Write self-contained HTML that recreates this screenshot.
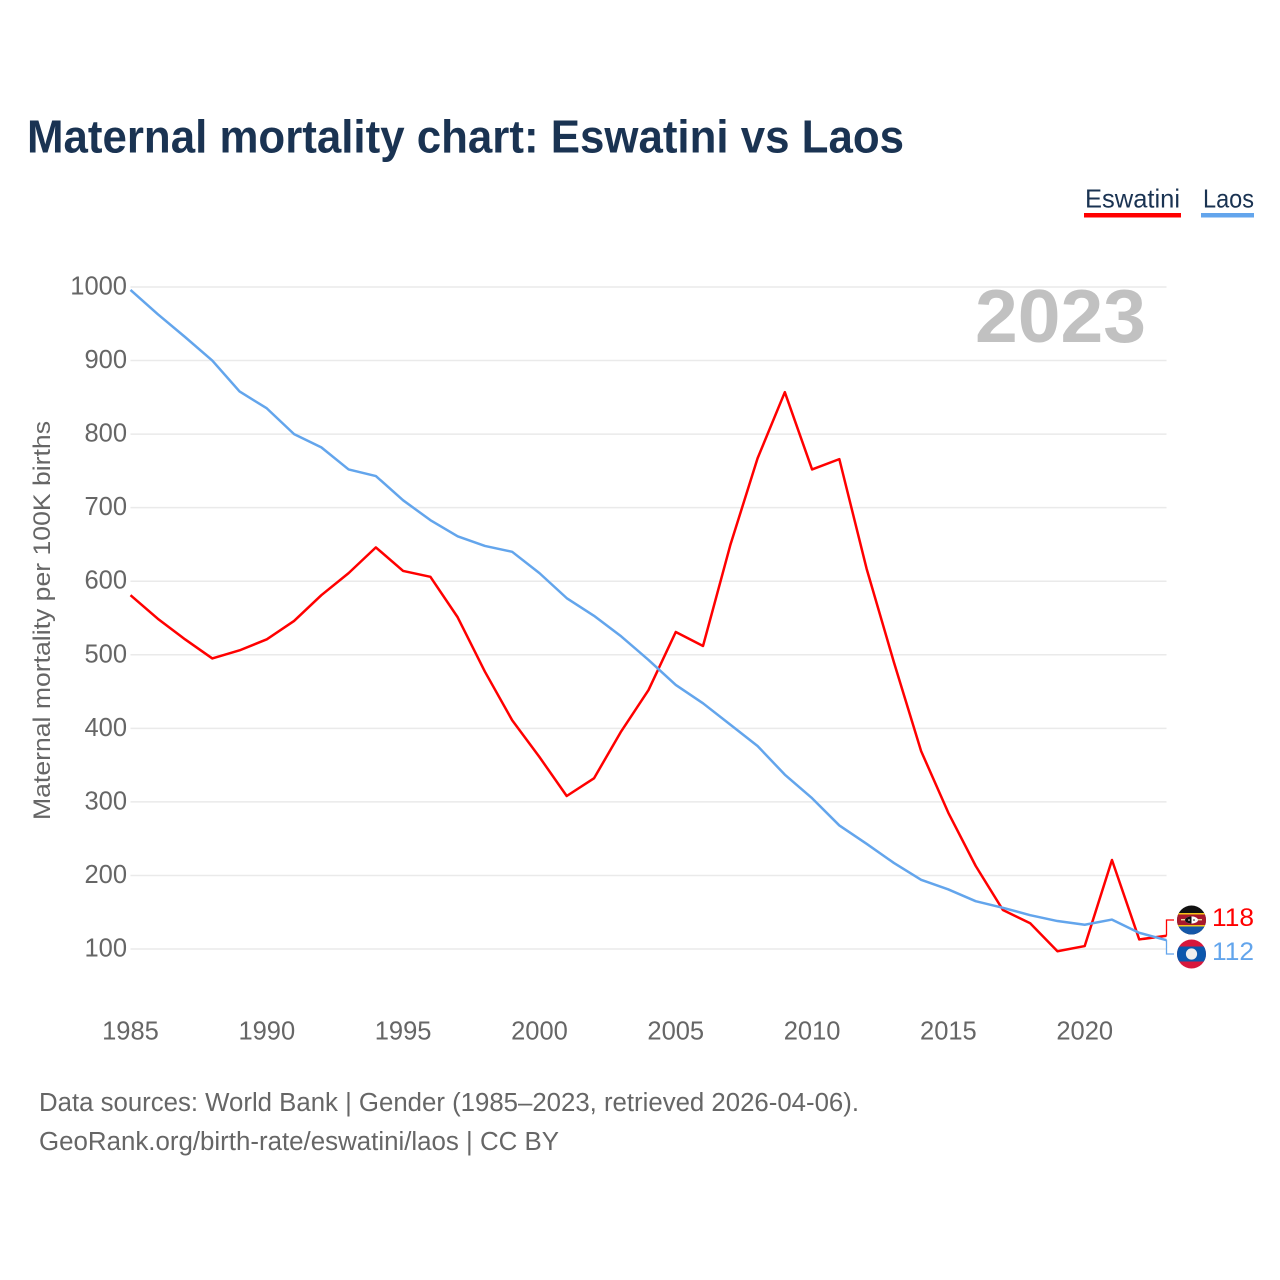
<!DOCTYPE html>
<html lang="en">
<head>
<meta charset="utf-8">
<title>Maternal mortality chart: Eswatini vs Laos</title>
<style>
html,body{margin:0;padding:0;background:#fff;}
svg{display:block;font-family:"Liberation Sans",sans-serif;}
</style>
</head>
<body>
<svg id="chart" xmlns="http://www.w3.org/2000/svg" width="1280" height="1280" viewBox="0 0 1280 1280">
  <rect x="0" y="0" width="1280" height="1280" fill="#fff"/>
  <text x="27" y="152.5" font-size="46" font-weight="700" fill="#1a3352" textLength="877" lengthAdjust="spacingAndGlyphs">Maternal mortality chart: Eswatini vs Laos</text>

  <g>
    <text x="1085" y="207.5" font-size="26" fill="#1a3352" textLength="95" lengthAdjust="spacingAndGlyphs">Eswatini</text>
    <rect x="1084" y="213" width="97" height="4.5" fill="#ff0000"/>
  </g>
  <g>
    <text x="1203" y="207.5" font-size="26" fill="#1a3352" textLength="51" lengthAdjust="spacingAndGlyphs">Laos</text>
    <rect x="1201" y="213" width="53" height="4.5" fill="#63a5ec"/>
  </g>

  <g id="grid"></g>
  <g id="yticks"></g>
  <g id="xticks"></g>

  <text transform="translate(50,820) rotate(-90)" x="0" y="0" font-size="24.5" fill="#666" textLength="399" lengthAdjust="spacingAndGlyphs">Maternal mortality per 100K births</text>

  <text x="975" y="342" font-size="75" font-weight="700" fill="#c1c1c1" textLength="171" lengthAdjust="spacingAndGlyphs">2023</text>

  <g id="series"></g>

  <defs>
    <clipPath id="clip-flag-sz"><circle cx="1191.5" cy="920" r="14.5"/></clipPath>
    <clipPath id="clip-flag-la"><circle cx="1191.5" cy="954" r="14.5"/></clipPath>
  </defs>

  <g clip-path="url(#clip-flag-sz)">
    <rect x="1176" y="905" width="31" height="30" fill="#111"/>
    <rect x="1176" y="913" width="31" height="1.5" fill="#f5c518"/>
    <rect x="1176" y="914.5" width="31" height="10.5" fill="#a8182c"/>
    <rect x="1176" y="925" width="31" height="1.5" fill="#f5c518"/>
    <rect x="1176" y="926.5" width="31" height="9" fill="#1557a8"/>
    <rect x="1181" y="919" width="21" height="1.4" fill="#e8d9a0"/>
    <ellipse cx="1191.5" cy="920" rx="6.5" ry="3.6" fill="#fff"/>
    <path d="M1185 920 A6.5 3.6 0 0 1 1191.5 916.4 L1191.5 923.6 A6.5 3.6 0 0 1 1185 920Z" fill="#111"/>
    <circle cx="1189" cy="920" r="0.8" fill="#fff"/>
    <circle cx="1194" cy="920" r="0.8" fill="#111"/>
  </g>
  <g clip-path="url(#clip-flag-la)">
    <rect x="1176" y="939" width="31" height="30" fill="#d8183c"/>
    <rect x="1176" y="946.5" width="31" height="15" fill="#0b57ad"/>
    <circle cx="1191.5" cy="954" r="5.6" fill="#eee"/>
  </g>

  <text x="1212" y="926" font-size="25" fill="#ff0000" textLength="42" lengthAdjust="spacingAndGlyphs">118</text>
  <text x="1212" y="960" font-size="25" fill="#63a5ec" textLength="42" lengthAdjust="spacingAndGlyphs">112</text>

  <text x="39" y="1111" font-size="25.5" fill="#666" textLength="820" lengthAdjust="spacingAndGlyphs">Data sources: World Bank | Gender (1985–2023, retrieved 2026-04-06).</text>
  <text x="39" y="1150" font-size="25.5" fill="#666" textLength="520" lengthAdjust="spacingAndGlyphs">GeoRank.org/birth-rate/eswatini/laos | CC BY</text>
</svg>
<script>
const years = [1985,1986,1987,1988,1989,1990,1991,1992,1993,1994,1995,1996,1997,1998,1999,2000,2001,2002,2003,2004,2005,2006,2007,2008,2009,2010,2011,2012,2013,2014,2015,2016,2017,2018,2019,2020,2021,2022,2023];
const eswatiniValues = [581,549,521,495,506,521,546,581,611,646,614,606,551,477,411,361,308,332,396,452,531,512,649,767,857,752,766,617,490,369,285,213,153,135,97,104,221,113,118];
const laosValues = [996,963,932,900,858,835,800,782,752,743,710,683,661,648,640,611,577,553,525,493,459,434,405,376,337,305,268,243,217,194,181,165,156,146,138,133,140,122,112];
const yTickValues = [100,200,300,400,500,600,700,800,900,1000];
const xTickValues = [1985,1990,1995,2000,2005,2010,2015,2020];

const SVG_NS = 'http://www.w3.org/2000/svg';
const xLeft = 130.5, xRight = 1166.5, yAt100 = 949, yAt1000 = 287;
function xScale(year) {
  return xLeft + (year - years[0]) * (xRight - xLeft) / (years[years.length - 1] - years[0]);
}
function yScale(value) {
  return yAt100 + (value - 100) * (yAt1000 - yAt100) / 900;
}

const gridGroup = document.getElementById('grid');
const yTickGroup = document.getElementById('yticks');
const xTickGroup = document.getElementById('xticks');
const seriesGroup = document.getElementById('series');

yTickValues.forEach(function (tick) {
  const y = yScale(tick);
  const line = document.createElementNS(SVG_NS, 'line');
  
  
  line.setAttribute('x1', xLeft);
  line.setAttribute('x2', xRight);
  line.setAttribute('y1', y);
  line.setAttribute('y2', y);
  line.setAttribute('stroke', '#eaeaea');
  line.setAttribute('stroke-width', '1.5');
  gridGroup.appendChild(line);

  const label = document.createElementNS(SVG_NS, 'text');
  
  
  label.setAttribute('x', 127);
  label.setAttribute('y', y + 7.5);
  label.setAttribute('text-anchor', 'end');
  label.setAttribute('font-size', '25.5');
  label.setAttribute('fill', '#666');
  label.textContent = String(tick);
  yTickGroup.appendChild(label);
});

xTickValues.forEach(function (tick) {
  const label = document.createElementNS(SVG_NS, 'text');
  
  
  label.setAttribute('x', xScale(tick));
  label.setAttribute('y', 1039.5);
  label.setAttribute('text-anchor', 'middle');
  label.setAttribute('font-size', '25.5');
  label.setAttribute('fill', '#666');
  label.textContent = String(tick);
  xTickGroup.appendChild(label);
});

function seriesPoints(values) {
  return values.map(function (value, i) {
    return xScale(years[i]).toFixed(2) + ',' + yScale(value).toFixed(2);
  }).join(' ');
}

const eswatiniLine = document.createElementNS(SVG_NS, 'polyline');


eswatiniLine.setAttribute('points', seriesPoints(eswatiniValues));
eswatiniLine.setAttribute('fill', 'none');
eswatiniLine.setAttribute('stroke', '#ff0000');
eswatiniLine.setAttribute('stroke-width', '2.5');
eswatiniLine.setAttribute('stroke-linejoin', 'round');
seriesGroup.appendChild(eswatiniLine);

const laosLine = document.createElementNS(SVG_NS, 'polyline');


laosLine.setAttribute('points', seriesPoints(laosValues));
laosLine.setAttribute('fill', 'none');
laosLine.setAttribute('stroke', '#63a5ec');
laosLine.setAttribute('stroke-width', '2.5');
laosLine.setAttribute('stroke-linejoin', 'round');
seriesGroup.appendChild(laosLine);

const eswatiniEnd = yScale(eswatiniValues[eswatiniValues.length - 1]);
const laosEnd = yScale(laosValues[laosValues.length - 1]);

const eswatiniConnector = document.createElementNS(SVG_NS, 'polyline');


eswatiniConnector.setAttribute('points', xRight + ',' + eswatiniEnd + ' ' + xRight + ',920 1174,920');
eswatiniConnector.setAttribute('fill', 'none');
eswatiniConnector.setAttribute('stroke', '#ff0000');
eswatiniConnector.setAttribute('stroke-width', '1.3');
seriesGroup.appendChild(eswatiniConnector);

const laosConnector = document.createElementNS(SVG_NS, 'polyline');


laosConnector.setAttribute('points', xRight + ',' + laosEnd + ' ' + xRight + ',954 1174,954');
laosConnector.setAttribute('fill', 'none');
laosConnector.setAttribute('stroke', '#63a5ec');
laosConnector.setAttribute('stroke-width', '1.3');
seriesGroup.appendChild(laosConnector);
</script>
</body>
</html>
